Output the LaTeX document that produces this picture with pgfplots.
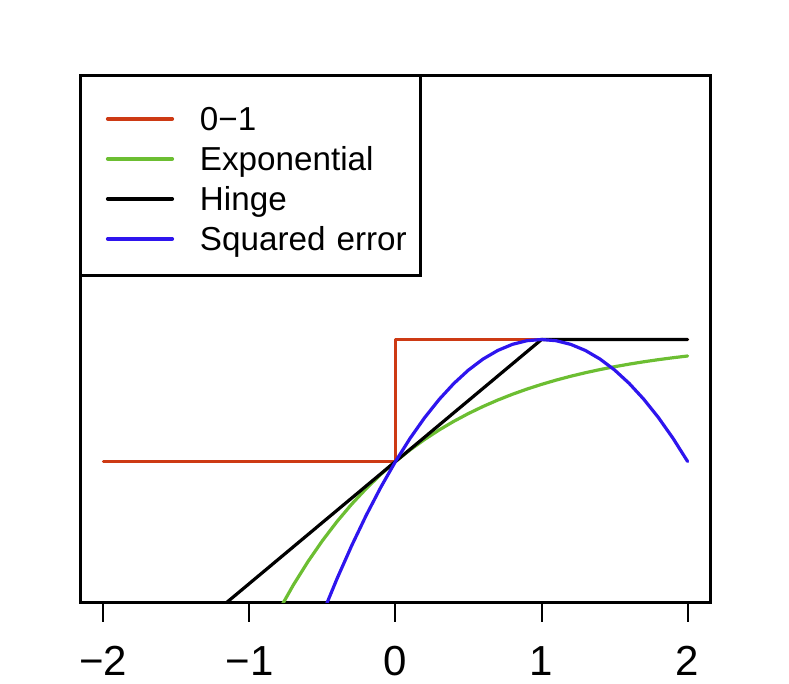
\documentclass[border=0pt]{standalone}
\usepackage{pgfplots}
\pgfplotsset{compat=1.18}
\usepackage{fontspec}
\setmainfont{Liberation Sans}
\definecolor{lossred}{HTML}{CD3A14}
\definecolor{lossgreen}{HTML}{6CBE32}
\definecolor{lossblue}{HTML}{2E15EE}

\begin{document}
\begin{tikzpicture}
\useasboundingbox (0,0) rectangle (394.5pt,342pt);
\begin{axis}[
    at={(40pt,40.5pt)}, anchor=south west,
    width=315.5pt, height=263.5pt, scale only axis,
    xmin=-2.16, xmax=2.16, ymin=-2.16, ymax=2.16,
    axis line style={line width=1.5pt, black},
    xtick={-2,-1,0,1,2},
    xticklabels={−2,−1,0,1,2},
    xtick pos=lower, ytick=\empty,
    tick align=outside, major tick length=9.5pt,
    major tick style={line width=1pt, black},
    /pgf/number format/assume math mode=true,
    xticklabel style={font=\fontsize{21}{23}\selectfont, anchor=base, inner sep=0pt, yshift=-27pt},
    legend style={at={(0,1)}, anchor=north west, draw=black, line width=1.5pt,
        fill=white, inner xsep=0pt, inner ysep=10pt, row sep=0pt, column sep=0pt,
        outer sep=0pt, font=\fontsize{16.6}{18}\selectfont,
        nodes={inner sep=0pt, anchor=base, text height=17.3pt, text depth=2.7pt,
               text width=110pt, align=left}},
    legend cell align=left,
    legend image code/.code={
        \path[draw=none, fill=none] (0pt,0pt) rectangle (60pt,0pt);
        \draw[#1, line width=2.1pt] (14pt,5.9pt) -- (46pt,5.9pt);},
    every axis plot/.append style={line width=1.6pt, line cap=round, line join=round},
]
\addplot[lossred] coordinates {(-2,-1) (0,-1) (0,0) (2,0)};
\addlegendentry{0−1}
\addplot[lossgreen] coordinates {
    (-0.8,-2.2255) (-0.7,-2.0138) (-0.6,-1.8221) (-0.5,-1.6487) (-0.4,-1.4918)
    (-0.3,-1.3499) (-0.2,-1.2214) (-0.1,-1.1052) (0,-1) (0.1,-0.9048)
    (0.2,-0.8187) (0.3,-0.7408) (0.4,-0.6703) (0.5,-0.6065) (0.6,-0.5488)
    (0.7,-0.4966) (0.8,-0.4493) (0.9,-0.4066) (1.0,-0.3679) (1.1,-0.3329)
    (1.2,-0.3012) (1.3,-0.2725) (1.4,-0.2466) (1.5,-0.2231) (1.6,-0.2019)
    (1.7,-0.1827) (1.8,-0.1653) (1.9,-0.1496) (2.0,-0.1353)};
\addlegendentry{Exponential}
\addplot[black] coordinates {(-2,-3) (1,0) (2,0)};
\addlegendentry{Hinge}
\addplot[lossblue] coordinates {
    (-0.5,-2.25) (-0.4,-1.96) (-0.3,-1.69) (-0.2,-1.44) (-0.1,-1.21) (0,-1)
    (0.1,-0.81) (0.2,-0.64) (0.3,-0.49) (0.4,-0.36) (0.5,-0.25) (0.6,-0.16)
    (0.7,-0.09) (0.8,-0.04) (0.9,-0.01) (1.0,0) (1.1,-0.01) (1.2,-0.04)
    (1.3,-0.09) (1.4,-0.16) (1.5,-0.25) (1.6,-0.36) (1.7,-0.49) (1.8,-0.64)
    (1.9,-0.81) (2.0,-1)};
\addlegendentry{Squared error}
\end{axis}
\end{tikzpicture}
\end{document}
